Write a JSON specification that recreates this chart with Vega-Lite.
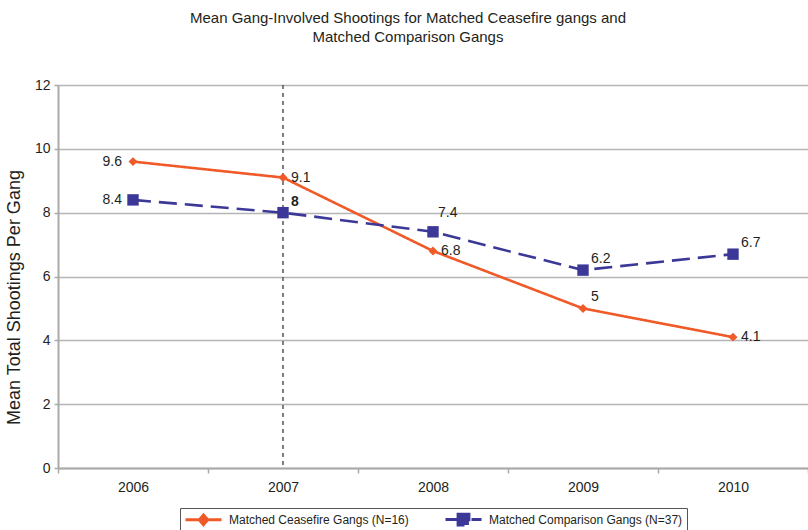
{
  "$schema": "https://vega.github.io/schema/vega-lite/v6.json",
  "width": 750,
  "height": 383,
  "autosize": {"type": "none"},
  "padding": {"left": 58, "top": 85, "right": 0, "bottom": 62},
  "background": "white",
  "config": {
    "font": "Liberation Sans",
    "view": {"stroke": null},
    "text": {"font": "Liberation Sans"}
  },
  "title": {
    "text": ["Mean Gang-Involved Shootings for Matched Ceasefire gangs and", "Matched Comparison Gangs"],
    "fontSize": 15,
    "fontWeight": "normal",
    "color": "#231f20",
    "anchor": "middle",
    "frame": "group",
    "dx": -25,
    "lineHeight": 19,
    "offset": 33
  },
  "data": {
    "values": [
      {"year": "2006", "series": "Matched Ceasefire Gangs (N=16)", "value": 9.6},
      {"year": "2007", "series": "Matched Ceasefire Gangs (N=16)", "value": 9.1},
      {"year": "2008", "series": "Matched Ceasefire Gangs (N=16)", "value": 6.8},
      {"year": "2009", "series": "Matched Ceasefire Gangs (N=16)", "value": 5},
      {"year": "2010", "series": "Matched Ceasefire Gangs (N=16)", "value": 4.1},
      {"year": "2006", "series": "Matched Comparison Gangs (N=37)", "value": 8.4},
      {"year": "2007", "series": "Matched Comparison Gangs (N=37)", "value": 8},
      {"year": "2008", "series": "Matched Comparison Gangs (N=37)", "value": 7.4},
      {"year": "2009", "series": "Matched Comparison Gangs (N=37)", "value": 6.2},
      {"year": "2010", "series": "Matched Comparison Gangs (N=37)", "value": 6.7}
    ]
  },
  "encoding": {
    "x": {
      "field": "year",
      "type": "ordinal",
      "bandPosition": 0.5,
      "scale": {"type": "band", "paddingInner": 0, "paddingOuter": 0},
      "axis": {
        "title": null,
        "labelAngle": 0,
        "tickBand": "extent",
        "labelFontSize": 14,
        "labelColor": "#231f20",
        "labelPadding": 7,
        "domainColor": "#aaaaaa",
        "domainWidth": 2,
        "tickColor": "#aaaaaa",
        "tickWidth": 1.5,
        "tickSize": 5,
        "grid": false
      }
    },
    "y": {
      "field": "value",
      "type": "quantitative",
      "scale": {"domain": [0, 12], "nice": false},
      "axis": {
        "title": "Mean Total Shootings Per Gang",
        "titleFontSize": 18,
        "titleFontWeight": "normal",
        "titleColor": "#231f20",
        "titlePadding": 11,
        "titleY": 212,
        "values": [0, 2, 4, 6, 8, 10, 12],
        "labelFontSize": 14,
        "labelColor": "#231f20",
        "labelPadding": 4,
        "grid": true,
        "gridColor": "#b5b5b5",
        "gridWidth": 1.5,
        "domainColor": "#aaaaaa",
        "domainWidth": 2,
        "tickColor": "#aaaaaa",
        "tickWidth": 1.5,
        "tickSize": 4
      }
    }
  },
  "layer": [
    {
      "data": {"values": [{"year": "2007", "label": "Ceasefire"}]},
      "mark": {"type": "rule", "strokeDash": [4, 4], "color": "#555555", "strokeWidth": 1.5},
      "encoding": {"y": null}
    },
    {
      "data": {"values": [{"year": "2007", "label": "Ceasefire"}]},
      "mark": {"type": "text", "fontSize": 14, "color": "#231f20", "baseline": "bottom", "dy": -3},
      "encoding": {"y": {"datum": 12, "type": "quantitative"}, "text": {"field": "label"}}
    },
    {
      "mark": {"type": "line", "strokeWidth": 2.6},
      "encoding": {
        "color": {
          "field": "series",
          "type": "nominal",
          "scale": {"domain": ["Matched Ceasefire Gangs (N=16)", "Matched Comparison Gangs (N=37)"], "range": ["#f05a28", "#3b3898"]},
          "legend": {
            "orient": "none",
            "legendX": 122,
            "legendY": 423,
            "direction": "horizontal",
            "title": null,
            "strokeColor": "#555555",
            "padding": 4,
            "labelFontSize": 12,
            "labelLimit": 400,
            "labelColor": "#231f20",
            "symbolSize": 144,
            "symbolOffset": 12,
            "labelOffset": 18,
            "columnPadding": 30,
            "symbolStrokeWidth": 3,
            "encode": {
              "symbols": {
                "update": {
                  "shape": {"signal": "indexof(datum.value, 'Ceasefire') >= 0 ? 'M-3,0L3,0M0,-0.8L0.7,0L0,0.8L-0.7,0Z' : 'M-3,0L3,0M-0.9,-0.9L0.9,-0.9L0.9,0.9L-0.9,0.9Z'"},
                  "fill": {"signal": "indexof(datum.value, 'Ceasefire') >= 0 ? '#f05a28' : '#3b3898'"},
                  "stroke": {"signal": "indexof(datum.value, 'Ceasefire') >= 0 ? '#f05a28' : '#3b3898'"},
                  "strokeWidth": {"value": 3}
                }
              }
            }
          }
        },
        "strokeDash": {
          "field": "series",
          "type": "nominal",
          "scale": {"domain": ["Matched Ceasefire Gangs (N=16)", "Matched Comparison Gangs (N=37)"], "range": [[1, 0], [18, 8]]},
          "legend": null
        }
      }
    },
    {
      "transform": [{"filter": "indexof(datum.series, 'Ceasefire') >= 0"}],
      "mark": {"type": "point", "shape": "diamond", "filled": true, "opacity": 1, "size": 80, "color": "#f05a28"}
    },
    {
      "transform": [{"filter": "indexof(datum.series, 'Comparison') >= 0"}],
      "mark": {"type": "point", "shape": "square", "filled": true, "opacity": 1, "size": 130, "color": "#3b3898"}
    },
    {
      "transform": [{"filter": "datum.year === '2006'"}],
      "mark": {"type": "text", "fontSize": 14, "color": "#231f20", "align": "right", "baseline": "middle", "dx": -11},
      "encoding": {"text": {"field": "value", "type": "nominal"}}
    },
    {
      "transform": [{"filter": "indexof(datum.series, 'Ceasefire') >= 0 && (datum.year === '2007' || datum.year === '2008' || datum.year === '2010')"}],
      "mark": {"type": "text", "fontSize": 14, "color": "#231f20", "align": "left", "baseline": "middle", "dx": 8},
      "encoding": {"text": {"field": "value", "type": "nominal"}}
    },
    {
      "transform": [{"filter": "(indexof(datum.series, 'Ceasefire') >= 0 && datum.year === '2009') || (indexof(datum.series, 'Comparison') >= 0 && (datum.year === '2009' || datum.year === '2010'))"}],
      "mark": {"type": "text", "fontSize": 14, "color": "#231f20", "align": "left", "baseline": "middle", "dx": 8, "dy": -11},
      "encoding": {"text": {"field": "value", "type": "nominal"}}
    },
    {
      "transform": [{"filter": "indexof(datum.series, 'Comparison') >= 0 && datum.year === '2007'"}],
      "mark": {"type": "text", "fontSize": 14, "fontWeight": "bold", "color": "#231f20", "align": "left", "baseline": "middle", "dx": 8, "dy": -11},
      "encoding": {"text": {"field": "value", "type": "nominal"}}
    },
    {
      "transform": [{"filter": "indexof(datum.series, 'Comparison') >= 0 && datum.year === '2008'"}],
      "mark": {"type": "text", "fontSize": 14, "color": "#231f20", "align": "left", "baseline": "middle", "dx": 5, "dy": -19},
      "encoding": {"text": {"field": "value", "type": "nominal"}}
    }
  ]
}
